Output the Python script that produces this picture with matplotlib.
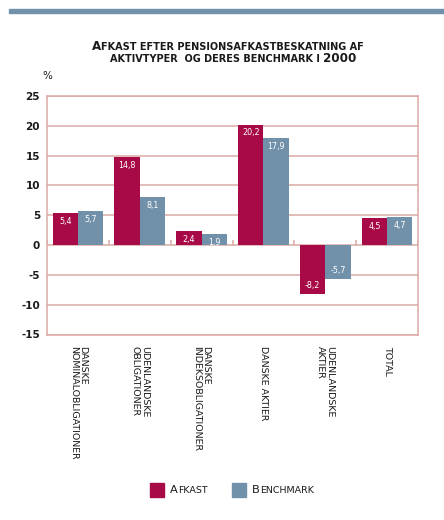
import numpy as np
import matplotlib
matplotlib.use("Agg")
import matplotlib.pyplot as plt
from matplotlib.offsetbox import TextArea, HPacker, AnnotationBbox
from matplotlib.patches import Rectangle

categories = ["Danske\nnominalobligationer", "Udenlandske\nobligationer",
              "Danske\nindeksobligationer", "Danske aktier",
              "Udenlandske\naktier", "Total"]
afkast = [5.4, 14.8, 2.4, 20.2, -8.2, 4.5]
benchmark = [5.7, 8.1, 1.9, 17.9, -5.7, 4.7]
series_names = ["Afkast", "Benchmark"]
yticks = [-15, -10, -5, 0, 5, 10, 15, 20, 25]
title_lines = ["Afkast efter pensionsafkastbeskatning af",
               "aktivtyper  og deres benchmark i 2000"]

RED = "#a80a47"
BLUE = "#7191aa"
GRID = "#dba9a6"
TXT = "#1a1a1a"

W, H = 444, 520
fig = plt.figure(figsize=(W / 100, H / 100), dpi=100)
ax = fig.add_axes([47 / W, 1 - 334.5 / H, (418 - 47) / W, (334.5 - 96) / H])

x = np.arange(len(categories))
bw = 0.41
b1 = ax.bar(x - bw / 2, afkast, bw, color=RED, zorder=3)
b2 = ax.bar(x + bw / 2, benchmark, bw, color=BLUE, zorder=3)

def fmt(v):
    return f"{v:.1f}".replace(".", ",")

for bars, vals in ((b1, afkast), (b2, benchmark)):
    for rect, v in zip(bars, vals):
        cx = rect.get_x() + rect.get_width() / 2
        off = -6 if v >= 0 else 6
        ax.annotate(fmt(v), (cx, v), xytext=(0, off), textcoords="offset points",
                    ha="center", va="center", color="white", fontsize=5.8, zorder=4)

ax.set_xlim(-0.5, len(categories) - 0.5)
ax.set_ylim(-15, 25)
ax.set_yticks(yticks)
ax.set_yticklabels([str(t) for t in yticks], fontsize=7.5, fontweight="bold", color=TXT)
ax.tick_params(axis="y", length=0, pad=5)
ax.yaxis.grid(True, color=GRID, linewidth=1.1, zorder=1)
ax.set_axisbelow(True)
for s in ax.spines.values():
    s.set_color(GRID)
    s.set_linewidth(1.1)

# category separators rising from the zero line
ax.vlines(np.arange(len(categories) + 1) - 0.5, 0, 0.85, color=GRID, linewidth=1.1, zorder=2)

ax.set_xticks(x)
ax.set_xticklabels([c.upper() for c in categories], rotation=270, fontsize=6.8,
                   color=TXT, va="top", ha="center", linespacing=1.0,
                   multialignment="left")
ax.tick_params(axis="x", length=0, pad=8)

ax.text(0.0, 1.085, "%", transform=ax.transAxes, ha="center", va="center",
        fontsize=7.5, color=TXT)

def smallcaps(s, big, small, color=TXT, weight="normal"):
    runs = []
    for ch in s:
        isbig = ch.isupper() or ch.isdigit()
        if runs and runs[-1][1] == isbig:
            runs[-1][0] += ch
        else:
            runs.append([ch, isbig])
    children = []
    for txt, isbig in runs:
        children.append(TextArea(txt.upper(), textprops=dict(
            fontsize=big if isbig else small, color=color, family="DejaVu Sans",
            fontweight=weight)))
    return HPacker(children=children, align="baseline", pad=0, sep=0)

def place(box, px, py, align=(0.5, 0.5)):
    ab = AnnotationBbox(box, (px, py), xycoords="figure pixels", box_alignment=align,
                        frameon=False, pad=0, annotation_clip=False)
    fig.add_artist(ab)

place(smallcaps(title_lines[0], 8.6, 7.0, weight="bold"), 228, H - 47)
place(smallcaps(title_lines[1], 8.6, 7.0, weight="bold"), 233, H - 58)

# legend
leg_items = [(series_names[0], RED, 150, 170), (series_names[1], BLUE, 232, 252)]
for name, col, sx, tx in leg_items:
    fig.patches.append(Rectangle((sx / W, 1 - 496.5 / H), 14 / W, 14 / H,
                                 transform=fig.transFigure, color=col))
    place(smallcaps(name, 8.2, 6.8), tx, H - 490, align=(0, 0.5))

# top decorative bar
fig.patches.append(Rectangle((9 / W, 1 - 13.3 / H), 1 - 9 / W, 4.3 / H,
                             transform=fig.transFigure, color=BLUE))

fig.savefig("out.png", dpi=100)
